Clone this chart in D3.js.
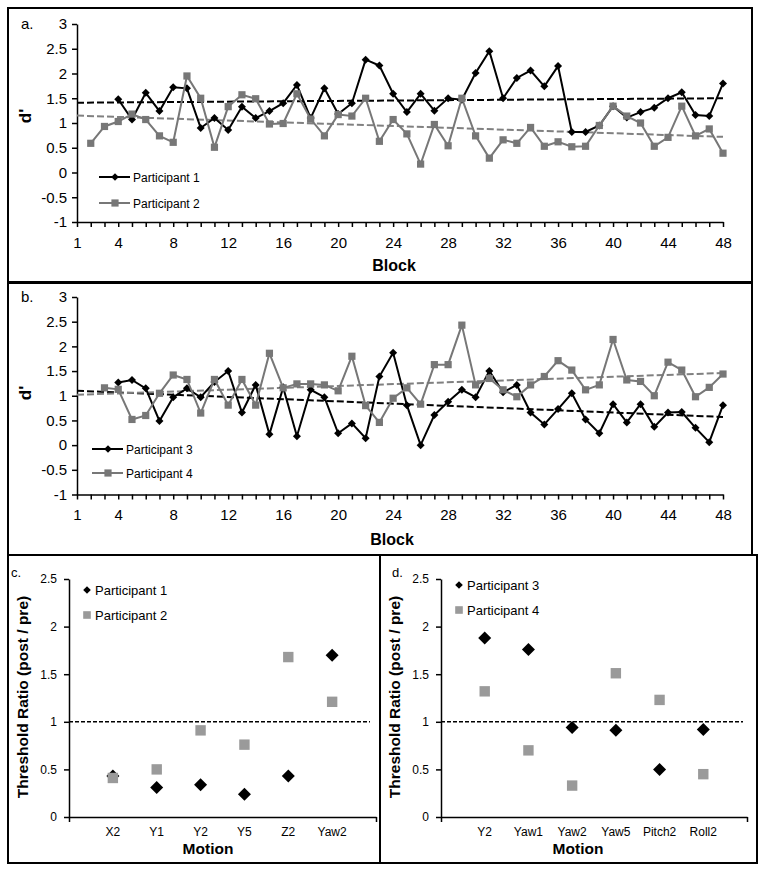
<!DOCTYPE html>
<html><head><meta charset="utf-8">
<script src="https://cdn.jsdelivr.net/npm/d3@7"></script>
<style>
body{margin:0;background:#fff}
svg{display:block;font-family:"Liberation Sans",Arial,sans-serif}
</style>
</head><body>
<svg id="chart" width="762" height="872"></svg>
<script>
// ---------- DATA ----------
const blocks = [1,2,3,4,5,6,7,8,9,10,11,12,13,14,15,16,17,18,19,20,21,22,23,24,
                25,26,27,28,29,30,31,32,33,34,35,36,37,38,39,40,41,42,43,44,45,46,47,48];
const blockLabels = [1,4,8,12,16,20,24,28,32,36,40,44,48];
const dTicks = [-1,-0.5,0,0.5,1,1.5,2,2.5,3];

const p1 = [null,null,null,1.48,1.07,1.61,1.24,1.72,1.70,0.90,1.10,0.86,1.33,1.10,1.24,1.40,
            1.77,1.10,1.70,1.18,1.40,2.28,2.16,1.59,1.22,1.59,1.25,1.50,1.47,2.01,2.45,1.50,
            1.91,2.06,1.74,2.15,0.82,0.82,0.95,1.34,1.11,1.22,1.31,1.50,1.62,1.16,1.14,1.80];
const p2 = [null,0.59,0.93,1.03,1.18,1.07,0.74,0.61,1.95,1.50,0.51,1.33,1.57,1.49,0.98,0.99,
            1.59,1.08,0.74,1.17,1.14,1.50,0.63,1.07,0.78,0.17,0.97,0.54,1.50,0.74,0.29,0.66,
            0.59,0.91,0.53,0.62,0.52,0.53,0.95,1.34,1.14,1.00,0.53,0.71,1.34,0.74,0.88,0.39];
const p3 = [null,null,null,1.27,1.32,1.15,0.49,0.97,1.15,0.97,1.28,1.50,0.66,1.22,0.22,1.17,
            0.18,1.12,0.97,0.24,0.44,0.14,1.39,1.87,0.81,0.00,0.61,0.88,1.12,0.97,1.50,1.07,
            1.22,0.66,0.42,0.73,1.05,0.52,0.24,0.83,0.46,0.83,0.37,0.66,0.67,0.35,0.06,0.81];
const p4 = [null,null,1.16,1.13,0.52,0.60,1.05,1.42,1.33,0.65,1.33,0.81,1.33,0.81,1.86,1.16,
            1.24,1.24,1.22,1.10,1.80,0.80,0.46,0.95,1.16,0.83,1.63,1.63,2.43,1.22,1.35,1.12,
            0.98,1.22,1.39,1.71,1.52,1.12,1.22,2.14,1.32,1.29,1.00,1.68,1.52,0.98,1.17,1.44];

// linear trend lines: value at block 1 and at block 48
const trendP1 = [1.41, 1.50];
const trendP2 = [1.15, 0.72];
const trendP3 = [1.10, 0.57];
const trendP4 = [1.02, 1.46];

const motionsC = ["X2","Y1","Y2","Y5","Z2","Yaw2"];
const ratioP1 = [0.43,0.31,0.34,0.24,0.43,1.70];
const ratioP2 = [0.41,0.50,0.91,0.76,1.68,1.21];
const motionsD = ["Y2","Yaw1","Yaw2","Yaw5","Pitch2","Roll2"];
const ratioP3 = [1.88,1.76,0.94,0.91,0.50,0.92];
const ratioP4 = [1.32,0.70,0.33,1.51,1.23,0.45];
const ratioTicks = [0,0.5,1,1.5,2,2.5];

// ---------- DRAW ----------
const svg = d3.select("#chart");
svg.append("rect").attr("width",762).attr("height",872).attr("fill","#fff");
const diamond = r => `M0,${-r}L${r},0L0,${r}L${-r},0Z`;
const GRAY = "#777777", GRAY_T = "#808080", GRAY_S = "#9a9a9a";

function styleAxis(sel, fs){
  sel.selectAll("path,line").attr("stroke","#000").attr("stroke-width",1.5);
  sel.selectAll("text").attr("fill","#000").attr("font-size",fs)
     .attr("font-family",'"Liberation Sans",Arial,sans-serif');
}

function linePanel(o){
  const g = svg.append("g");
  const x = d3.scaleLinear().domain([1,48]).range([77,723]);
  const y = d3.scaleLinear().domain([-1,3]).range([o.yb, o.yt]);
  g.append("rect").attr("x",o.box[0]).attr("y",o.box[1]).attr("width",o.box[2]).attr("height",o.box[3])
    .attr("fill","none").attr("stroke","#000").attr("stroke-width",2);

  const ya = g.append("g").attr("transform","translate(77,0)")
    .call(d3.axisLeft(y).tickValues(dTicks).tickSize(5).tickSizeOuter(0).tickPadding(5).tickFormat(d=>String(d)));
  styleAxis(ya, 15);
  const xa = g.append("g").attr("transform",`translate(0,${y(-1)})`)
    .call(d3.axisBottom(x).tickValues(blocks).tickSize(5).tickSizeOuter(0).tickPadding(10)
      .tickFormat(d => blockLabels.includes(d) ? String(d) : ""));
  styleAxis(xa, 15);

  g.append("text").attr("x",o.blockX).attr("y",o.blockY).attr("text-anchor","middle")
    .attr("font-size",16).attr("font-weight","bold").text("Block");
  g.append("text").attr("transform",`translate(31,${o.dY}) rotate(-90)`).attr("text-anchor","middle")
    .attr("font-size",17).attr("font-weight","bold").text("d'");
  g.append("text").attr("x",21).attr("y",y(3)+5).attr("font-size",15).text(o.tag);

  // trend lines
  [[o.tb,"#000"],[o.tg,GRAY_T]].forEach(([t,c])=>{
    g.append("line").attr("x1",x(1)).attr("x2",x(48)).attr("y1",y(t[0])).attr("y2",y(t[1]))
      .attr("stroke",c).attr("stroke-width",2).attr("stroke-dasharray","7,3");
  });

  const line = d3.line().defined(d=>d!=null).x((d,i)=>x(blocks[i])).y(d=>y(d));
  // black series
  g.append("path").datum(o.sb).attr("d",line).attr("fill","none").attr("stroke","#000").attr("stroke-width",2);
  g.selectAll(".dm").data(o.sb.map((v,i)=>[blocks[i],v]).filter(d=>d[1]!=null)).enter().append("path")
    .attr("d",diamond(4)).attr("transform",d=>`translate(${x(d[0])},${y(d[1])})`).attr("fill","#000");
  // gray series
  g.append("path").datum(o.sg).attr("d",line).attr("fill","none").attr("stroke",GRAY).attr("stroke-width",2);
  g.selectAll(".sq").data(o.sg.map((v,i)=>[blocks[i],v]).filter(d=>d[1]!=null)).enter().append("rect")
    .attr("x",d=>x(d[0])-3.6).attr("y",d=>y(d[1])-3.6).attr("width",7.2).attr("height",7.2).attr("fill",GRAY);

  // legend
  const L = o.leg;
  g.append("line").attr("x1",L.x).attr("x2",L.x+31).attr("y1",L.y1).attr("y2",L.y1).attr("stroke","#000").attr("stroke-width",2);
  g.append("path").attr("d",diamond(3.8)).attr("transform",`translate(${L.x+16},${L.y1})`).attr("fill","#000");
  g.append("text").attr("x",L.x+34).attr("y",L.y1+4.5).attr("font-size",12).text(o.names[0]);
  g.append("line").attr("x1",L.x).attr("x2",L.x+31).attr("y1",L.y2).attr("y2",L.y2).attr("stroke",GRAY).attr("stroke-width",2);
  g.append("rect").attr("x",L.x+16-3.6).attr("y",L.y2-3.6).attr("width",7.2).attr("height",7.2).attr("fill",GRAY);
  g.append("text").attr("x",L.x+34).attr("y",L.y2+4.5).attr("font-size",12).text(o.names[1]);
}

linePanel({box:[8,8,744,274], yt:24, yb:222, tag:"a.", sb:p1, sg:p2, tb:trendP1, tg:trendP2,
  blockX:394, blockY:271, dY:116, names:["Participant 1","Participant 2"], leg:{x:99,y1:177,y2:203}});
linePanel({box:[8,283,744,272], yt:297, yb:494.5, tag:"b.", sb:p3, sg:p4, tb:trendP3, tg:trendP4,
  blockX:392, blockY:545, dY:393, names:["Participant 3","Participant 4"], leg:{x:92,y1:449,y2:473}});

function scatterPanel(o){
  const g = svg.append("g");
  const x = d3.scaleLinear().domain([0,7]).range([o.x0,o.x1]);
  const y = d3.scaleLinear().domain([0,2.5]).range([817,579]);
  const ya = g.append("g").attr("transform",`translate(${o.x0},0)`)
    .call(d3.axisLeft(y).tickValues(ratioTicks).tickSize(5).tickSizeOuter(0).tickPadding(7).tickFormat(d=>String(d)));
  styleAxis(ya, 12);
  const xa = g.append("g").attr("transform",`translate(0,817)`)
    .call(d3.axisBottom(x).tickValues([0,7]).tickSize(5).tickSizeOuter(0).tickFormat(""));
  styleAxis(xa, 12);
  g.selectAll(".cat").data(o.cats).enter().append("text")
    .attr("x",(d,i)=>x(i+1)).attr("y",836).attr("text-anchor","middle").attr("font-size",12).text(d=>d);
  g.append("text").attr("x",o.motionX).attr("y",854).attr("text-anchor","middle")
    .attr("font-size",15.5).attr("font-weight","bold").text("Motion");
  g.append("text").attr("transform",`translate(${o.labX},697) rotate(-90)`).attr("text-anchor","middle")
    .attr("font-size",15.5).attr("font-weight","bold").text("Threshold Ratio (post / pre)");
  g.append("text").attr("x",o.tagX).attr("y",577).attr("font-size",13).text(o.tag);

  g.append("line").attr("x1",o.x0).attr("x2",o.dashEnd).attr("y1",y(1)).attr("y2",y(1))
    .attr("stroke","#000").attr("stroke-width",1.5).attr("stroke-dasharray","4,2");

  g.selectAll(".dm").data(o.a).enter().append("path").attr("d",diamond(6.5))
    .attr("transform",(d,i)=>`translate(${x(i+1)},${y(d)})`).attr("fill","#000");
  g.selectAll(".sq").data(o.b).enter().append("rect")
    .attr("x",(d,i)=>x(i+1)-5.2).attr("y",d=>y(d)-5.2).attr("width",10.4).attr("height",10.4).attr("fill",GRAY_S);

  // legend
  g.append("path").attr("d",diamond(3.8)).attr("transform",`translate(${o.legX},${o.ly1})`).attr("fill","#000");
  g.append("text").attr("x",o.legX+8).attr("y",o.ly1+4.7).attr("font-size",13).text(o.names[0]);
  g.append("rect").attr("x",o.legX-3.8).attr("y",o.ly2-3.8).attr("width",7.6).attr("height",7.6).attr("fill",GRAY_S);
  g.append("text").attr("x",o.legX+8).attr("y",o.ly2+4.7).attr("font-size",13).text(o.names[1]);
}

scatterPanel({x0:69, x1:376, cats:motionsC, a:ratioP1, b:ratioP2, dashEnd:370, motionX:208, labX:28,
  tag:"c.", tagX:11, legX:87, ly1:590, ly2:615, names:["Participant 1","Participant 2"]});
scatterPanel({x0:441, x1:747, cats:motionsD, a:ratioP3, b:ratioP4, dashEnd:743, motionX:578, labX:400,
  tag:"d.", tagX:392, legX:459, ly1:585, ly2:610, names:["Participant 3","Participant 4"]});

// frame of bottom row
svg.append("rect").attr("x",8).attr("y",555).attr("width",749).attr("height",308)
  .attr("fill","none").attr("stroke","#000").attr("stroke-width",2);
svg.append("line").attr("x1",380).attr("x2",380).attr("y1",555).attr("y2",863)
  .attr("stroke","#000").attr("stroke-width",2);
</script>
</body></html>
